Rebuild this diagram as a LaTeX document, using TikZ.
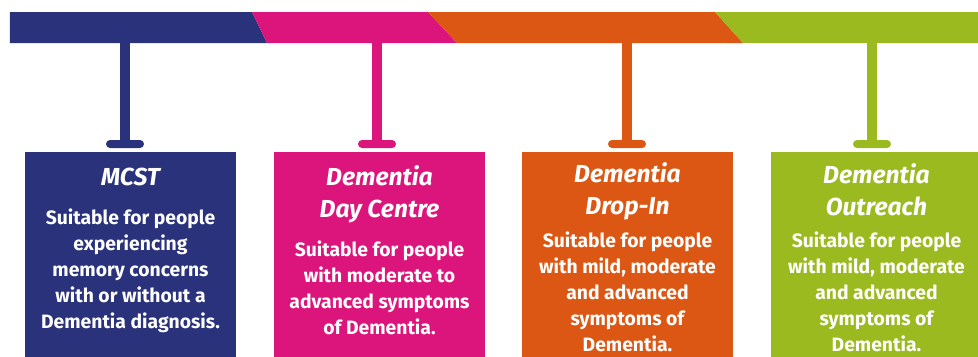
\documentclass[tikz,border=0pt]{standalone}
\usepackage{fontspec}
\setsansfont{Fira Sans}
\usetikzlibrary{calc}
\definecolor{mcstblue}{HTML}{29327A}
\definecolor{daypink}{HTML}{DC157C}
\definecolor{droporange}{HTML}{DD5714}
\definecolor{outgreen}{HTML}{9BBA20}
\tikzstyle{servicebox}=[rectangle,minimum width=4.22cm,minimum height=5cm,inner sep=0pt,anchor=north]
\tikzstyle{stopcap}=[rectangle,rounded corners=0.08cm,minimum width=0.76cm,minimum height=0.16cm,inner sep=0pt]
\tikzstyle{stem} = [draw,line width=0.2cm]
\tikzstyle{heading}=[text=white,align=center,inner sep=0pt,font=\sffamily\bfseries\itshape\fontsize{14}{18.2}\selectfont]
\tikzstyle{blurb}=[text=white,align=center,inner sep=0pt,font=\sffamily\bfseries\fontsize{11}{14.8}\selectfont]

\begin{document}
\begin{tikzpicture}
    \useasboundingbox (0,0) rectangle (19.56,7.12);
    \clip (0,0) rectangle (19.56,7.12);

    % Coloured band along the top, slanted joins between the colours
    \foreach \a/\b/\c/\d/\col in {0.2/5.04/5.34/0.2/mcstblue, 5.04/8.56/9.14/5.34/daypink,
                                  8.56/14.30/14.86/9.14/droporange, 14.30/19.56/19.56/14.86/outgreen}
        \fill[\col] (\a,6.88) -- (\b,6.88) -- (\c,6.26) -- (\d,6.26) -- cycle;

    % First we draw the boxes
    \foreach \pos/\name/\col in {{(2.61,4.08)/mcst/mcstblue},{(7.59,4.08)/daycentre/daypink},
                                 {(12.55,4.08)/dropin/droporange},{(17.53,4.08)/outreach/outgreen}}
        \node[servicebox,fill=\col] (\name) at \pos {};

    % Hang each box from the band
    \foreach \x/\name/\col in {2.5/mcst/mcstblue, 7.54/daycentre/daypink,
                               12.54/dropin/droporange, 17.44/outreach/outgreen} {
        \coordinate (t\name) at (\x,6.3);
        \node[stopcap,fill=\col] (c\name) at (\x,4.24) {};
        \path[stem,\col] (t\name) -- (c\name.center);
    }

    % Names of the services
    \foreach \pos/\name/\desc in {{(2.61,3.58)/mcst/MCST},{(7.59,3.24)/daycentre/Dementia\\Day Centre},
                                  {(12.55,3.30)/dropin/Dementia\\Drop-In},{(17.53,3.32)/outreach/Dementia\\Outreach}}
        \node[heading] (h\name) at \pos {\desc};

    % Who each one is for
    \foreach \pos/\name/\desc in {{(2.61,1.71)/mcst/Suitable for people\\experiencing\\memory concerns\\with or without a\\Dementia diagnosis.},
                                  {(7.59,1.37)/daycentre/Suitable for people\\with moderate to\\advanced symptoms\\of Dementia.},
                                  {(12.55,1.29)/dropin/{Suitable for people\\with mild, moderate\\and advanced\\symptoms of\\Dementia.}},
                                  {(17.53,1.29)/outreach/{Suitable for people\\with mild, moderate\\and advanced\\symptoms of\\Dementia.}}}
        \node[blurb] (b\name) at \pos {\desc};

\end{tikzpicture}
\end{document}
